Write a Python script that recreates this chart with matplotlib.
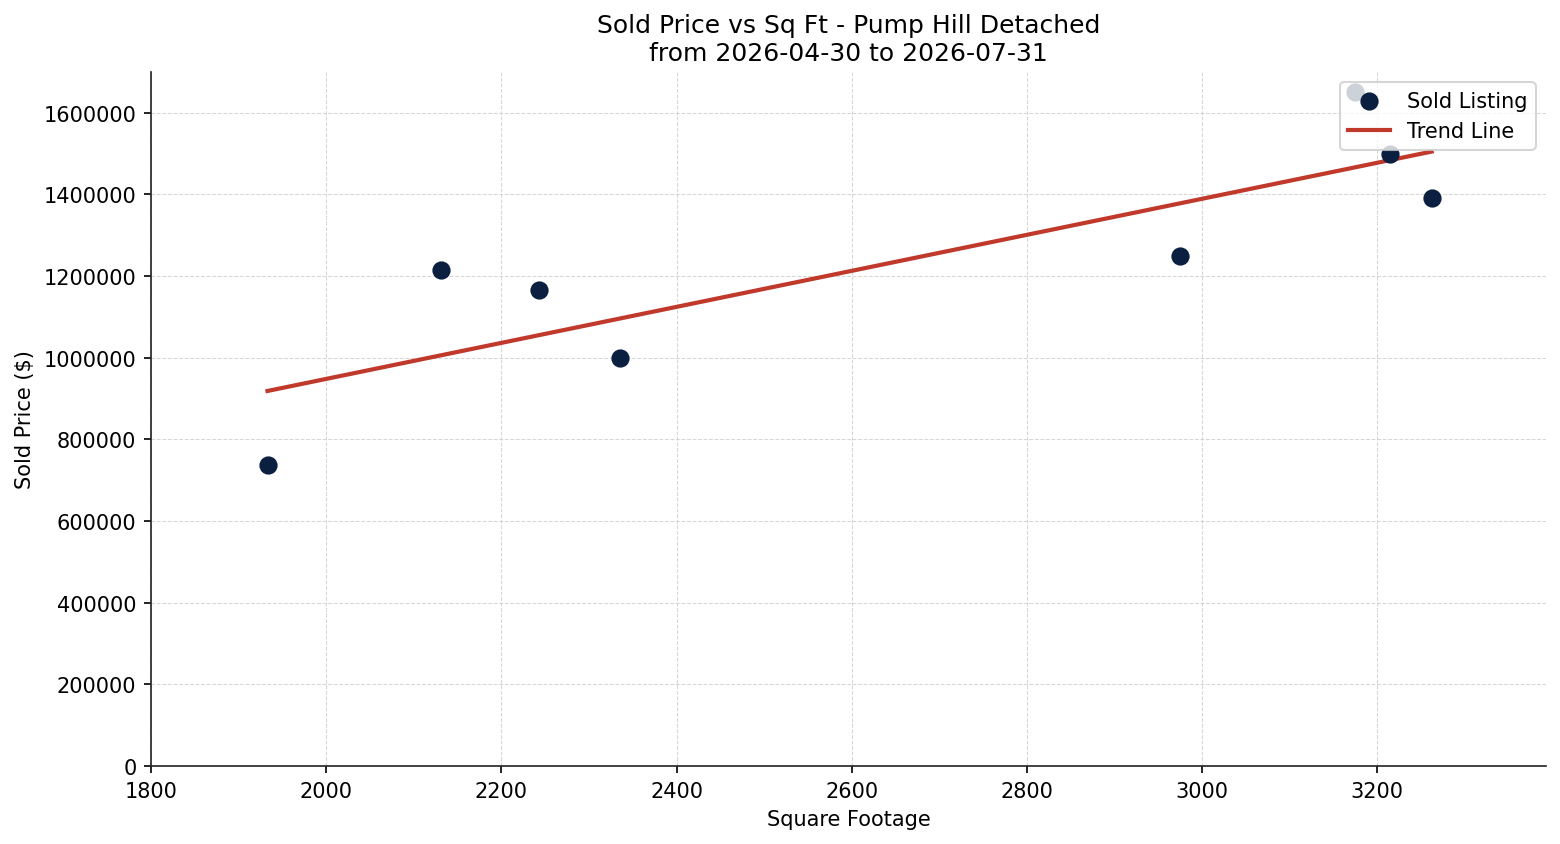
import matplotlib
matplotlib.use("Agg")
import matplotlib.pyplot as plt
import numpy as np

# datos
sqft = [1933, 2131, 2243, 2335, 2975, 3174, 3215, 3262]
precio = [738000, 1215000, 1165000, 1000000, 1250000, 1650000, 1500000, 1390000]

colorPuntos = "#0b2040"
colorTrend = "#c0392b"

fig, ax = plt.subplots(figsize=(10.4, 5.633), dpi=150)

ax.scatter(sqft, precio, s=60, color=colorPuntos, zorder=3, label="Sold Listing")

# linea de tendencia (minimos cuadrados)
m, b = np.polyfit(sqft, precio, 1)
xs = np.array([min(sqft), max(sqft)])
ax.plot(xs, m * xs + b, color=colorTrend, linewidth=2, zorder=2, label="Trend Line")

ax.set_xlim(1800, max(sqft) * 1.04)
ax.set_ylim(0, max(precio) * 1.03)
ax.ticklabel_format(style="plain", axis="y", useOffset=False)

ax.grid(True, linestyle="--", linewidth=0.5, color="#cccccc", alpha=0.8)
ax.set_axisbelow(True)
ax.spines["top"].set_visible(False)
ax.spines["right"].set_visible(False)
ax.spines["left"].set_color("#222222")
ax.spines["bottom"].set_color("#222222")

ax.set_title("Sold Price vs Sq Ft - Pump Hill Detached\nfrom 2026-04-30 to 2026-07-31")
ax.set_xlabel("Square Footage")
ax.set_ylabel("Sold Price ($)")
ax.legend(loc="upper right")

fig.subplots_adjust(left=0.0968, right=0.991, top=0.9136, bottom=0.0923)
fig.savefig("out.png", dpi=150)
